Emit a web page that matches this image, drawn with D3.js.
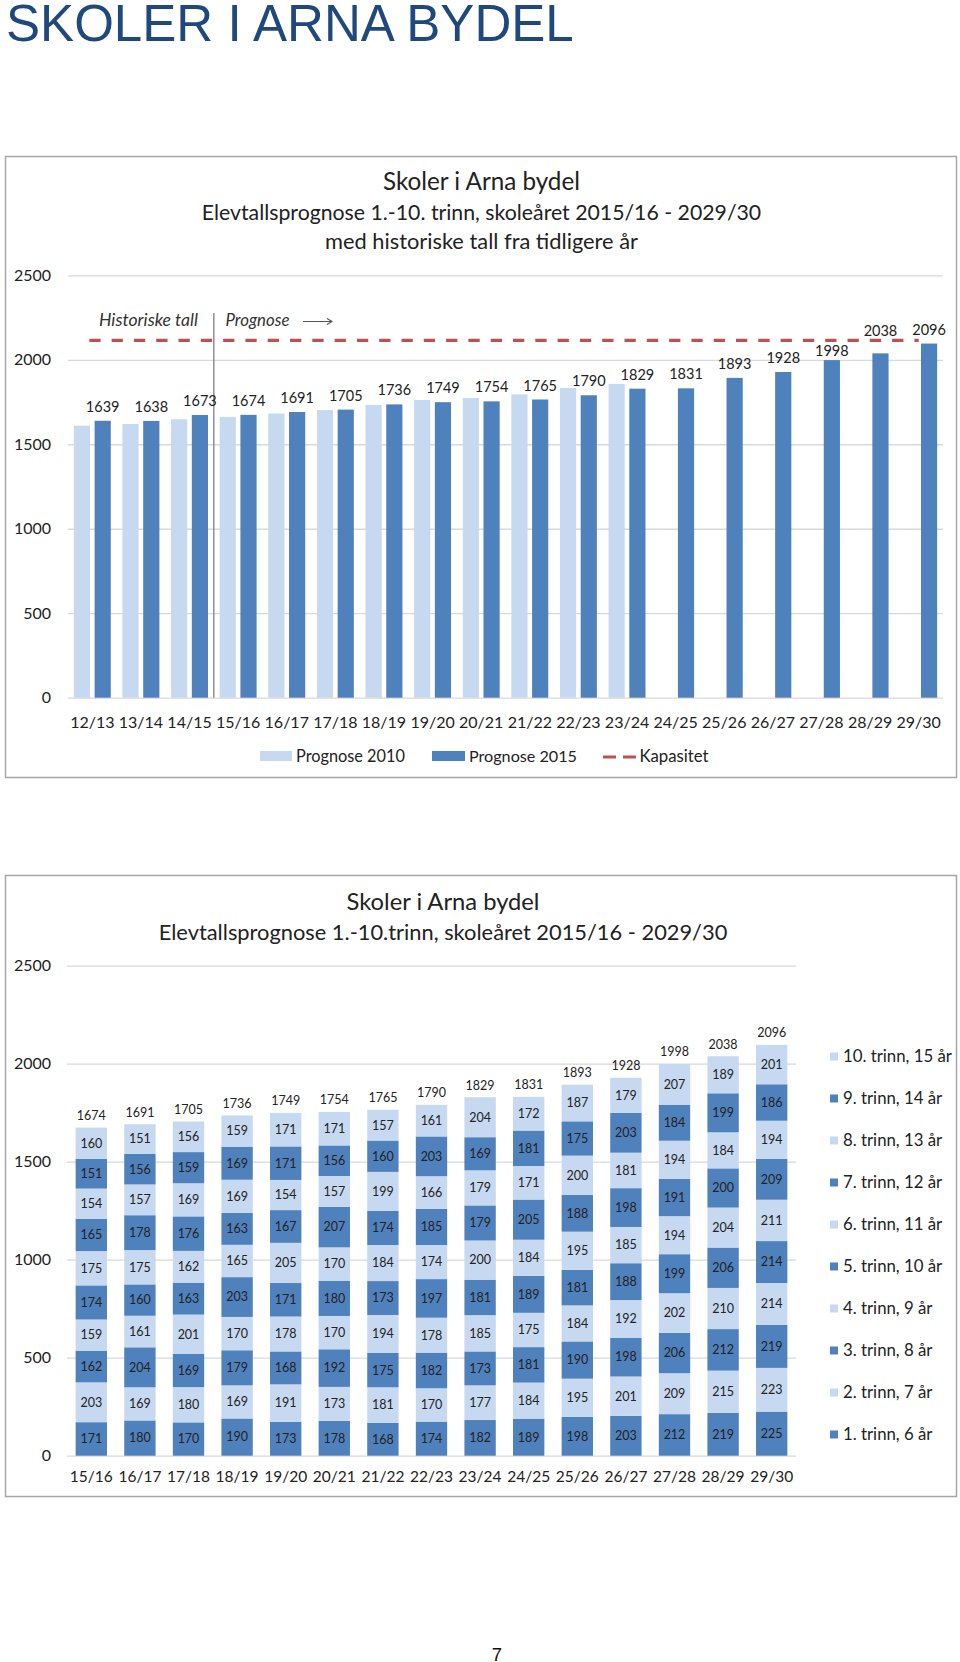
<!DOCTYPE html>
<html><head><meta charset="utf-8">
<script src="https://cdn.jsdelivr.net/npm/d3@7"></script>
<style>body{margin:0;background:#fff}svg{display:block}</style>
</head><body>
<script>
// ---------- DATA ----------
const topCategories = ["12/13","13/14","14/15","15/16","16/17","17/18","18/19","19/20","20/21","21/22","22/23","23/24","24/25","25/26","26/27","27/28","28/29","29/30"];
const prognose2010 = [1610,1620,1648,1662,1682,1702,1733,1762,1774,1795,1833,1857];
const prognose2015 = [1639,1638,1673,1674,1691,1705,1736,1749,1754,1765,1790,1829,1831,1893,1928,1998,2038,2096];
const kapasitet = 2115;
const yTicks = [0,500,1000,1500,2000,2500];
const topSeriesNames = ["Prognose 2010","Prognose 2015","Kapasitet"];

const bottomCategories = ["15/16","16/17","17/18","18/19","19/20","20/21","21/22","22/23","23/24","24/25","25/26","26/27","27/28","28/29","29/30"];
const trinn1  = [171,180,170,190,173,178,168,174,182,189,198,203,212,219,225];
const trinn2  = [203,169,180,169,191,173,181,170,177,184,195,201,209,215,223];
const trinn3  = [162,204,169,179,168,192,175,182,173,181,190,198,206,212,219];
const trinn4  = [159,161,201,170,178,170,194,178,185,175,184,192,202,210,214];
const trinn5  = [174,160,163,203,171,180,173,197,181,189,181,188,199,206,214];
const trinn6  = [175,175,162,165,205,170,184,174,200,184,195,185,194,204,211];
const trinn7  = [165,178,176,163,167,207,174,185,179,205,188,198,191,200,209];
const trinn8  = [154,157,169,169,154,157,199,166,179,171,200,181,194,184,194];
const trinn9  = [151,156,159,169,171,156,160,203,169,181,175,203,184,199,186];
const trinn10 = [160,151,156,159,171,171,157,161,204,172,187,179,207,189,201];
const trinnNames = ["1. trinn, 6 år","2. trinn, 7 år","3. trinn, 8 år","4. trinn, 9 år","5. trinn, 10 år","6. trinn, 11 år","7. trinn, 12 år","8. trinn, 13 år","9. trinn, 14 år","10. trinn, 15 år"];
const trinnValues = [trinn1,trinn2,trinn3,trinn4,trinn5,trinn6,trinn7,trinn8,trinn9,trinn10];

// ---------- SETUP ----------
const W = 960, H = 1662;
const FONT = "Lato, 'Open Sans', sans-serif";
const LIGHT = "#c6d9f1", DARK = "#4f81bd", GRID = "#d9d9d9", TXT = "#222", FRAME = "#a6a6a6", RED = "#c0504d";
const svg = d3.select("body").append("svg").attr("width", W).attr("height", H);

function fit(t, target) {
  const w = t.node().getComputedTextLength();
  const fs = +t.attr("font-size");
  if (w > 0) t.attr("font-size", fs * target / w);
  return t;
}

// Page title
fit(svg.append("text").attr("x", 6).attr("y", 40.5)
  .attr("font-family", "'Liberation Sans', Arial, sans-serif").attr("font-size", 50)
  .attr("fill", "#1f497d").text("SKOLER I ARNA BYDEL"), 568);

// Page number
svg.append("text").attr("x", 497).attr("y", 1661).attr("text-anchor", "middle")
  .attr("font-family", "'Liberation Sans', Arial, sans-serif").attr("font-size", 18.5)
  .attr("fill", "#111").text("7");

// ---------- TOP CHART ----------
const gT = svg.append("g");
gT.append("rect").attr("x", 5.5).attr("y", 156.5).attr("width", 951).attr("height", 621)
  .attr("fill", "#fff").attr("stroke", FRAME).attr("stroke-width", 1.5);

const tTitles = [
  ["Skoler i Arna bydel", 190, 197],
  ["Elevtallsprognose 1.-10. trinn, skoleåret 2015/16 - 2029/30", 220, 560],
  ["med historiske tall fra tidligere år", 249, 313]
];
tTitles.forEach(([s, y, w]) => fit(gT.append("text").attr("x", 481.5).attr("y", y)
  .attr("text-anchor", "middle").attr("font-family", FONT).attr("font-size", 20)
  .attr("fill", TXT).text(s), w));

const yT = d3.scaleLinear().domain([0, 2500]).range([697.7, 275.3]);
const xT = d3.scaleBand().domain(topCategories).range([68, 943]).paddingInner(0.24).paddingOuter(0.12);
const xT1 = d3.scaleBand().domain(topSeriesNames.slice(0, 2)).range([0, xT.bandwidth()]).paddingInner(0.22);

const yAxT = gT.append("g").attr("transform", "translate(68,0)")
  .call(d3.axisLeft(yT).tickValues(yTicks).tickSize(-875).tickPadding(17).tickFormat(d3.format("d")));
yAxT.select(".domain").remove();
yAxT.selectAll(".tick line").attr("stroke", GRID).attr("stroke-width", 1.3);
yAxT.selectAll(".tick text").attr("font-family", FONT).attr("font-size", 16).attr("fill", TXT);

const xAxT = gT.append("g").attr("transform", "translate(0,697.7)")
  .call(d3.axisBottom(xT).tickSize(0));
xAxT.select(".domain").remove();
xAxT.selectAll(".tick text").attr("y", 25).attr("dy", "0.35em")
  .attr("font-family", FONT).attr("font-size", 16).attr("fill", TXT);

// separator + annotations
const sepX = (xT(topCategories[2]) + xT.bandwidth() + xT(topCategories[3])) / 2;
gT.append("line").attr("x1", sepX).attr("x2", sepX).attr("y1", 313).attr("y2", yT(0))
  .attr("stroke", "#7f7f7f").attr("stroke-width", 1.3);
fit(gT.append("text").attr("x", 99).attr("y", 320).attr("dy", "0.35em")
  .attr("font-family", FONT).attr("font-style", "italic").attr("font-size", 14)
  .attr("fill", "#333").text("Historiske tall"), 99);
fit(gT.append("text").attr("x", 225.5).attr("y", 320).attr("dy", "0.35em")
  .attr("font-family", FONT).attr("font-style", "italic").attr("font-size", 14)
  .attr("fill", "#333").text("Prognose"), 64);
gT.append("path").attr("d", "M303,321.5H332M327,318.5L332,321.5L327,324.5")
  .attr("fill", "none").attr("stroke", "#555").attr("stroke-width", 1.1);

// bars
const gBars = gT.append("g");
gBars.selectAll(".b10").data(prognose2010).join("rect")
  .attr("x", (d, i) => xT(topCategories[i]) + xT1("Prognose 2010"))
  .attr("width", xT1.bandwidth())
  .attr("y", d => yT(d)).attr("height", d => yT(0) - yT(d)).attr("fill", LIGHT);
gBars.selectAll(".b15").data(prognose2015).join("rect")
  .attr("x", (d, i) => xT(topCategories[i]) + xT1("Prognose 2015"))
  .attr("width", xT1.bandwidth())
  .attr("y", d => yT(d)).attr("height", d => yT(0) - yT(d)).attr("fill", DARK);

// capacity line
const capY = yT(kapasitet);
gT.append("line")
  .attr("x1", xT(topCategories[0]) + xT.bandwidth() / 2 - 3)
  .attr("x2", xT(topCategories[topCategories.length - 1]) + xT.bandwidth() / 2)
  .attr("y1", capY).attr("y2", capY)
  .attr("stroke", RED).attr("stroke-width", 3.3).attr("stroke-dasharray", "11.3,11");

// data labels
gT.selectAll(".lbl").data(prognose2015).join("text")
  .attr("x", (d, i) => xT(topCategories[i]) + xT1("Prognose 2015") + xT1.bandwidth() / 2)
  .attr("y", d => {
    const top = yT(d);
    let y = top - 14;
    if (Math.abs(y - capY) < 8) y = top > capY + 15 ? capY + 11 : capY - 9;
    return y;
  })
  .attr("dy", "0.35em").attr("text-anchor", "middle")
  .attr("font-family", FONT).attr("font-size", 14.5).attr("fill", TXT)
  .text(d => d);

// legend
const legT = gT.append("g");
legT.append("rect").attr("x", 260).attr("y", 751).attr("width", 32).attr("height", 10).attr("fill", LIGHT);
fit(legT.append("text").attr("x", 296).attr("y", 756).attr("dy", "0.35em").attr("font-family", FONT)
  .attr("font-size", 16).attr("fill", TXT).text(topSeriesNames[0]), 109);
legT.append("rect").attr("x", 432).attr("y", 751).attr("width", 33).attr("height", 10).attr("fill", DARK);
fit(legT.append("text").attr("x", 469).attr("y", 756).attr("dy", "0.35em").attr("font-family", FONT)
  .attr("font-size", 16).attr("fill", TXT).text(topSeriesNames[1]), 108);
legT.append("line").attr("x1", 603).attr("x2", 637).attr("y1", 757).attr("y2", 757)
  .attr("stroke", RED).attr("stroke-width", 3).attr("stroke-dasharray", "13,7");
fit(legT.append("text").attr("x", 639.5).attr("y", 756).attr("dy", "0.35em").attr("font-family", FONT)
  .attr("font-size", 16).attr("fill", TXT).text(topSeriesNames[2]), 69);

// ---------- BOTTOM CHART ----------
const gB = svg.append("g");
gB.append("rect").attr("x", 5.5).attr("y", 875.5).attr("width", 951).attr("height", 621)
  .attr("fill", "#fff").attr("stroke", FRAME).attr("stroke-width", 1.5);

const bTitles = [
  ["Skoler i Arna bydel", 910, 193],
  ["Elevtallsprognose 1.-10.trinn, skoleåret 2015/16 - 2029/30", 940, 569]
];
bTitles.forEach(([s, y, w]) => fit(gB.append("text").attr("x", 443).attr("y", y)
  .attr("text-anchor", "middle").attr("font-family", FONT).attr("font-size", 20)
  .attr("fill", TXT).text(s), w));

const yB = d3.scaleLinear().domain([0, 2500]).range([1455.7, 965.7]);
const xB = d3.scaleBand().domain(bottomCategories).range([67, 796]).paddingInner(0.355).paddingOuter(0.1775);

const yAxB = gB.append("g").attr("transform", "translate(67,0)")
  .call(d3.axisLeft(yB).tickValues(yTicks).tickSize(-729).tickPadding(16).tickFormat(d3.format("d")));
yAxB.select(".domain").remove();
yAxB.selectAll(".tick line").attr("stroke", GRID).attr("stroke-width", 1.3);
yAxB.selectAll(".tick text").attr("font-family", FONT).attr("font-size", 16).attr("fill", TXT);

const xAxB = gB.append("g").attr("transform", "translate(0,1455.7)")
  .call(d3.axisBottom(xB).tickSize(0));
xAxB.select(".domain").remove();
xAxB.selectAll(".tick text").attr("y", 21).attr("dy", "0.35em")
  .attr("font-family", FONT).attr("font-size", 15.5).attr("fill", TXT);

const rows = bottomCategories.map((c, i) => {
  const o = { cat: c };
  trinnNames.forEach((n, k) => o[n] = trinnValues[k][i]);
  return o;
});
const stacked = d3.stack().keys(trinnNames)(rows);
const colorOf = k => (k % 2 === 0 ? DARK : LIGHT);

const layers = gB.selectAll(".layer").data(stacked).join("g")
  .attr("fill", (d, k) => colorOf(k));
layers.selectAll("rect").data(d => d).join("rect")
  .attr("x", d => xB(d.data.cat)).attr("width", xB.bandwidth())
  .attr("y", d => yB(d[1])).attr("height", d => yB(d[0]) - yB(d[1]));
layers.selectAll("text").data(d => d).join("text")
  .attr("x", d => xB(d.data.cat) + xB.bandwidth() / 2)
  .attr("y", d => (yB(d[0]) + yB(d[1])) / 2).attr("dy", "0.35em")
  .attr("text-anchor", "middle").attr("font-family", FONT).attr("font-size", 12.5)
  .attr("fill", TXT).text(d => d[1] - d[0]);

const totals = bottomCategories.map((c, i) => d3.sum(trinnValues, arr => arr[i]));
gB.selectAll(".tot").data(totals).join("text")
  .attr("x", (d, i) => xB(bottomCategories[i]) + xB.bandwidth() / 2)
  .attr("y", d => yB(d) - 12).attr("dy", "0.35em")
  .attr("text-anchor", "middle").attr("font-family", FONT).attr("font-size", 12.5)
  .attr("fill", TXT).text(d => d);

// legend (top to bottom: 10. trinn ... 1. trinn)
const legOrder = trinnNames.map((n, k) => ({ n, k })).reverse();
const legB = gB.selectAll(".leg").data(legOrder).join("g")
  .attr("transform", (d, j) => `translate(830,${1056.5 + j * 42})`);
legB.append("rect").attr("x", 0).attr("y", -4).attr("width", 8).attr("height", 8)
  .attr("fill", d => colorOf(d.k));
legB.append("text").attr("x", 13).attr("y", 0).attr("dy", "0.35em")
  .attr("font-family", FONT).attr("font-size", 16.8).attr("fill", TXT).text(d => d.n);
</script>
</body></html>
